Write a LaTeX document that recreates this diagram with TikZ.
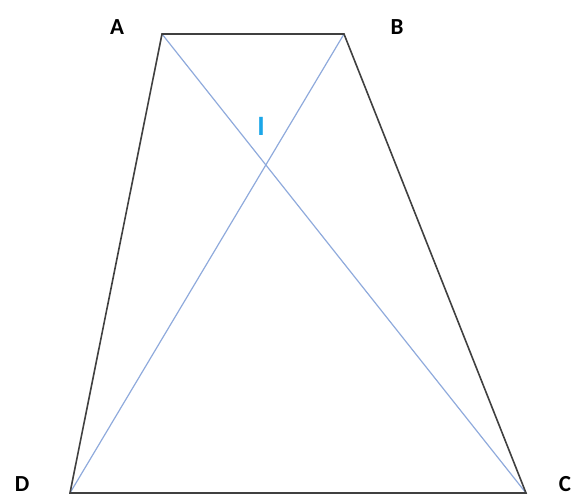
\documentclass[tikz,border=0pt]{standalone}
\usepackage{fontspec}
\setmainfont{Carlito}
\definecolor{sidecol}{HTML}{404040}
\definecolor{diagcol}{HTML}{8FAADC}
\definecolor{icol}{HTML}{1BA6E8}
\begin{document}
\begin{tikzpicture}[x=1pt,y=-1pt,
  side/.style={draw=sidecol,line width=1.6pt,line join=miter},
  diag/.style={draw=diagcol,line width=1.2pt},
  lbl/.style={font=\bfseries\fontsize{23}{23}\selectfont,text=black,inner sep=0pt},
  pt/.style={inner sep=0pt,minimum size=0pt}]
\useasboundingbox (0,0) rectangle (577,497);
\coordinate (A) at (162,34);
\coordinate (B) at (344,34);
\coordinate (C) at (526,493);
\coordinate (D) at (70,493);
\draw[diag] (A) -- (C);
\draw[diag] (B) -- (D);
\draw[side] (A) -- (B) -- (C) -- (D) -- cycle;
\node[lbl] (lA) at (117,27) {A};
\node[lbl] (lB) at (397,27) {B};
\node[lbl] (lC) at (565,484) {C};
\node[lbl] (lD) at (22,484) {D};
\node[lbl,text=icol,font=\bfseries\fontsize{28}{28}\selectfont] (lI) at (261,126) {I};
\end{tikzpicture}
\end{document}
